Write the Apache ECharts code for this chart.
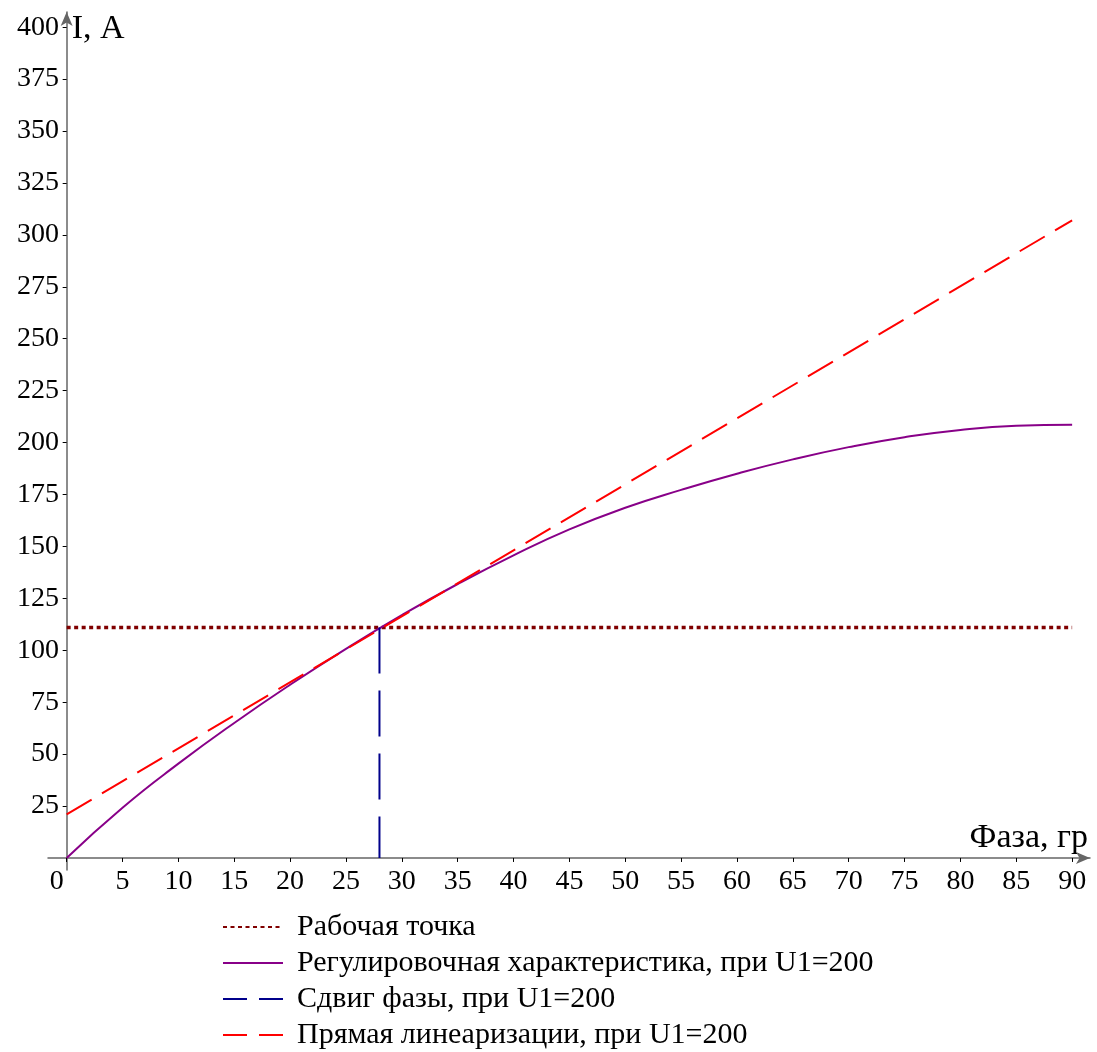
<!DOCTYPE html>
<html>
<head>
<meta charset="utf-8">
<script src="https://cdn.jsdelivr.net/npm/echarts@6/dist/echarts.min.js"></script>
<style>
html,body{margin:0;padding:0;background:#fff;}
#chart{width:1097px;height:1052px;}
</style>
</head>
<body>
<div id="chart"></div>
<script>
// ---- data ----
const phase = [0, 5, 10, 15, 20, 25, 30, 35, 40, 45, 50, 55, 60, 65, 70, 75, 80, 85, 90];
const current = [0, 24.2, 45.4, 65, 83.4, 100.7, 116.9, 131.9, 145.7, 158.2, 168.6, 177.2, 185.0, 191.9, 197.8, 202.6, 206.1, 208.1, 208.6];
const workPointPhase = [0, 90];
const workPointCurrent = [111, 111];
const shiftPhase = [28, 28];
const shiftCurrent = [111, 0];
const linPhase = [0, 90];
const linCurrent = [21, 307];
const xTicks = [0, 5, 10, 15, 20, 25, 30, 35, 40, 45, 50, 55, 60, 65, 70, 75, 80, 85, 90];
const yTicks = [25, 50, 75, 100, 125, 150, 175, 200, 225, 250, 275, 300, 325, 350, 375, 400];
const seriesNames = [
  'Рабочая точка',
  'Регулировочная характеристика, при U1=200',
  'Сдвиг фазы, при U1=200',
  'Прямая линеаризации, при U1=200'
];

const zip = (a, b) => a.map((v, i) => [v, b[i]]);
const FONT = 'Liberation Serif';

const chart = echarts.init(document.getElementById('chart'));
chart.setOption({
  backgroundColor: '#fff',
  animation: false,
  textStyle: { fontFamily: FONT },
  grid: { left: 48, right: 7, top: 12, bottom: 182, containLabel: false },
  xAxis: {
    type: 'value', min: -1.67, max: 91.6,
    splitLine: { show: false },
    axisLine: { onZero: true, lineStyle: { color: '#666', width: 1.5 },
      symbol: ['none', 'arrow'], symbolSize: [9, 14] },
    axisTick: { customValues: xTicks, length: 4, lineStyle: { color: '#000' } },
    axisLabel: {
      customValues: xTicks, color: '#000', fontSize: 28, fontFamily: FONT, margin: -2,
      formatter: v => v === 0 ? '{z|0}' : String(v),
      rich: { z: { fontSize: 28, fontFamily: FONT, color: '#000', padding: [0, 20, 0, 0] } }
    },
    name: 'Фаза, гр', nameLocation: 'end', nameGap: -2,
    nameTextStyle: { color: '#000', fontSize: 34, fontFamily: FONT, align: 'right', verticalAlign: 'bottom', padding: [0, 0, 3, 0] }
  },
  yAxis: {
    type: 'value', min: -5.8, max: 407.3,
    splitLine: { show: false },
    axisLine: { onZero: true, lineStyle: { color: '#666', width: 1.5 },
      symbol: ['none', 'arrow'], symbolSize: [9, 14] },
    axisTick: { customValues: yTicks, length: 4, lineStyle: { color: '#000' } },
    axisLabel: { customValues: yTicks, color: '#000', fontSize: 28, fontFamily: FONT, margin: -11 },
    name: 'I, A', nameLocation: 'end', nameGap: -17,
    nameTextStyle: { color: '#000', fontSize: 34, fontFamily: FONT, align: 'left', verticalAlign: 'middle', padding: [0, 0, 0, 5] }
  },
  legend: {
    orient: 'vertical', left: 222, top: 912, height: 140,
    padding: 0,
    itemWidth: 60, itemHeight: 14, itemGap: 6,
    itemStyle: { opacity: 0 },
    textStyle: { color: '#000', fontSize: 30, fontFamily: FONT, padding: [0, 0, 0, 9] },
    data: [
      { name: seriesNames[0] },
      { name: seriesNames[1] },
      { name: seriesNames[2], lineStyle: { type: [24, 12] } },
      { name: seriesNames[3], lineStyle: { type: [24, 12] } }
    ]
  },
  series: [
    { name: seriesNames[0], type: 'line', data: zip(workPointPhase, workPointCurrent), symbol: 'none',
      lineStyle: { color: '#800000', width: 3.5, type: [4, 3.5], cap: 'butt' }, itemStyle: { color: '#800000' } },
    { name: seriesNames[1], type: 'line', data: zip(phase, current), symbol: 'none', smooth: 0.5,
      lineStyle: { color: '#880088', width: 2 }, itemStyle: { color: '#880088' } },
    { name: seriesNames[2], type: 'line', data: zip(shiftPhase, shiftCurrent), symbol: 'none',
      lineStyle: { color: '#00008B', width: 2, type: [46, 17] }, itemStyle: { color: '#00008B' } },
    { name: seriesNames[3], type: 'line', data: zip(linPhase, linCurrent), symbol: 'none',
      lineStyle: { color: '#FF0000', width: 2, type: [29, 12] }, itemStyle: { color: '#FF0000' } }
  ]
});
</script>
</body>
</html>
